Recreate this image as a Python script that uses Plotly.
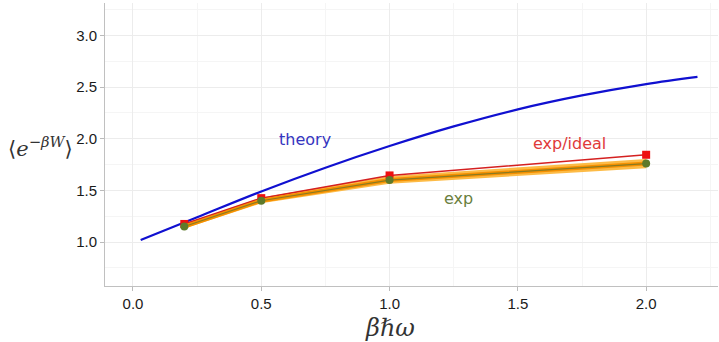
import plotly.graph_objects as go

# Theory curve samples
theory_x = [0.03, 0.25, 0.5, 0.75, 1.0, 1.25, 1.5, 1.75, 2.0, 2.2]
theory_y = [1.02, 1.24, 1.49, 1.72, 1.93, 2.12, 2.285, 2.42, 2.53, 2.60]

# Measured points
beta_hw = [0.2, 0.5, 1.0, 2.0]
exp_ideal = [1.175, 1.425, 1.645, 1.845]
exp_vals = [1.15, 1.40, 1.60, 1.76]
exp_lower = [1.13, 1.375, 1.565, 1.715]
exp_upper = [1.175, 1.43, 1.64, 1.805]

fig = go.Figure()

# uncertainty band around the experimental curve
fig.add_trace(go.Scatter(x=beta_hw, y=exp_lower, mode="lines",
                         line=dict(width=0, color="rgba(0,0,0,0)"),
                         showlegend=False, hoverinfo="skip"))
fig.add_trace(go.Scatter(x=beta_hw, y=exp_upper, mode="lines",
                         line=dict(width=0, color="rgba(0,0,0,0)"),
                         fill="tonexty", fillcolor="rgba(253,180,50,0.9)",
                         showlegend=False, hoverinfo="skip"))

# theory
fig.add_trace(go.Scatter(x=theory_x, y=theory_y, mode="lines",
                         line=dict(color="#1010d0", width=2.2, shape="spline"),
                         showlegend=False))

# exp/ideal
fig.add_trace(go.Scatter(x=beta_hw, y=exp_ideal, mode="lines+markers",
                         line=dict(color="#d42020", width=1.5),
                         marker=dict(symbol="square", size=8, color="#ee1010"),
                         showlegend=False))

# exp
fig.add_trace(go.Scatter(x=beta_hw, y=exp_vals, mode="lines",
                         line=dict(color="#f59000", width=4),
                         showlegend=False))
fig.add_trace(go.Scatter(x=beta_hw, y=exp_vals, mode="lines+markers",
                         line=dict(color="#8a7a20", width=1.2),
                         marker=dict(symbol="circle", size=8, color="#5e7a2a"),
                         showlegend=False))

ann_font = "DejaVu Sans, sans-serif"
fig.add_annotation(x=0.67, y=1.99, text="theory", showarrow=False,
                   font=dict(family=ann_font, size=16, color="#3535c0"))
fig.add_annotation(x=1.70, y=1.95, text="exp/ideal", showarrow=False,
                   font=dict(family=ann_font, size=16, color="#e03a3a"))
fig.add_annotation(x=1.27, y=1.42, text="exp", showarrow=False,
                   font=dict(family=ann_font, size=16, color="#6b8040"))

# axis labels
fig.add_annotation(xref="paper", yref="paper", x=-0.049, y=0.49,
                   xanchor="right", yanchor="middle",
                   text="⟨<i>e</i><sup>−<i>βW</i></sup>⟩", showarrow=False,
                   font=dict(family="DejaVu Serif, serif", size=21, color="#333"))
fig.add_annotation(xref="paper", yref="paper", x=0.465, y=-0.15,
                   xanchor="center", yanchor="middle",
                   text="<i>βℏω</i>", showarrow=False,
                   font=dict(family="DejaVu Serif, serif", size=24, color="#333"))

axis_common = dict(
    showgrid=True, gridcolor="#ececec", gridwidth=1,
    showline=True, linecolor="#c0c0c0", linewidth=1,
    ticks="outside", ticklen=4, tickcolor="#bbbbbb",
    tickfont=dict(family="Liberation Sans, Arial, sans-serif", size=15, color="#1a1a1a"),
    zeroline=False,
)

fig.update_xaxes(range=[-0.109, 2.28], tickvals=[0, 0.5, 1.0, 1.5, 2.0],
                 ticktext=["0.0", "0.5", "1.0", "1.5", "2.0"],
                 minor=dict(dtick=0.25, tick0=0, showgrid=True, gridcolor="#f5f5f5"),
                 **axis_common)
fig.update_yaxes(range=[0.574, 3.315], tickvals=[1.0, 1.5, 2.0, 2.5, 3.0],
                 ticktext=["1.0", "1.5", "2.0", "2.5", "3.0"],
                 minor=dict(dtick=0.25, tick0=0, showgrid=True, gridcolor="#f5f5f5"),
                 **axis_common)

fig.update_layout(
    width=719, height=342,
    margin=dict(l=105, r=1, t=3, b=56),
    plot_bgcolor="white", paper_bgcolor="white",
    showlegend=False,
)

fig.write_html("out.html")
